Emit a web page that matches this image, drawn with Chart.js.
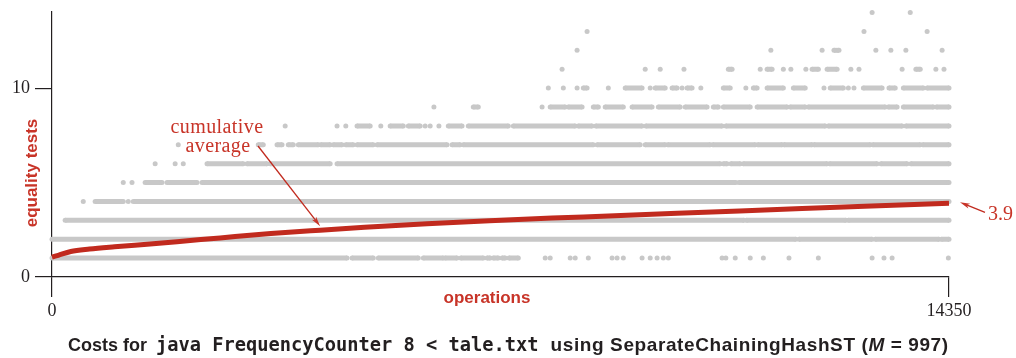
<!DOCTYPE html>
<html>
<head>
<meta charset="utf-8">
<script src="https://cdn.jsdelivr.net/npm/chart.js@4/dist/chart.umd.min.js"></script>
<style>
  html, body { margin: 0; padding: 0; background: #fff; }
  #wrap { position: relative; width: 1016px; height: 358px; overflow: hidden; }
  #caption {
    position: absolute; left: 68px; top: 334px; white-space: nowrap;
    font: bold 18px "Liberation Sans", Arial, sans-serif; color: #231f20;
  }
  #caption .code { font-family: "DejaVu Sans Mono", monospace; font-size: 18.7px; margin-left: 4px; }
  #caption .rest { font-size: 19px; letter-spacing: 0.6px; margin-left: 7px; }
</style>
</head>
<body>
<div id="wrap">
  <canvas id="chart" width="1016" height="358"></canvas>
  <div id="caption">Costs for <span class="code">java FrequencyCounter 8 &lt; tale.txt</span> <span class="rest">using SeparateChainingHashST (<i>M</i> = 997)</span></div>
</div>
<script>
// Axis ticks
const xTicks = [0, 14350];
const yTicks = [0, 10];

// Cumulative average cost (operation index -> average equality tests)
const avgOps  = [0, 100, 300, 600, 1000, 1570, 2000, 2690, 3500, 4290, 5000, 6000, 7000, 8000, 9000, 10000, 11000, 12000, 13000, 14350];
const avgCost = [1.05, 1.15, 1.35, 1.48, 1.60, 1.75, 1.87, 2.07, 2.30, 2.48, 2.63, 2.82, 2.98, 3.12, 3.24, 3.38, 3.50, 3.63, 3.75, 3.90];

// Individual operation costs: for each cost level, the operation ranges
// [first, last] (or single operations [op]) that took that many tests.
const costLevels = [1, 2, 3, 4, 5, 6, 7, 8, 9, 10, 11, 12, 13, 14];
const opsCost1 = [[0,4720],[4800,5140],[5220,5860],[5940,6260],[6290,6480],[6540,6900],[6960,7010],[7060,7140],[7200,7250],[7310,7460],
  [7890],[7970],[8290],[8370],[8580],[8960],[9040],[9140],[9440],[9570],[9680],[9780],[9860],
  [10720],[10780],[10930],[11170],[11380],[11790],[12260],[13120],[13310],[13440],[14340]];
const opsCost2 = [[0,11900],[11950,13120],[13170,14190],[14230,14350]];
const opsCost3 = [[210,11070],[11110,12700],[12740,14350]];
const opsCost4 = [[500],[690,1140],[1220],[1300,14350]];
const opsCost5 = [[1140],[1280],[1490,1760],[1840,2320],[2400,10940],[10990,14350]];
const opsCost6 = [[1650],[1970],[2100],[2480,3060],[3120,3440],[3490,4450],[4560,10690],[10740,10800],[10860,11010],
  [11060,12400],[12440,13200],[13260,13680],[13740,14350]];
const opsCost7 = [[2020],[3300,3380],[3600,3680],[3780,3860],[3940,4260],[4300,4450],[4500,4640],[4700,4820],[4880,5140],
  [5200,6320],[6400,6530],[6580,8660],[8720,9410],[9490,9810],[9850,10530],[10570,11250],[11290,11680],[11710,12160],
  [12190,13090],[13130,13890],[13930,14350]];
const opsCost8 = [[3730],[4560],[4700],[4880,5090],[5260],[5410,5620],[5700,5890],[5970],[6050],[6190],[6340,6560],
  [6660,7300],[7380,8370],[8420,8640],[8700,9440],[9500,10720],[10780,12370],[12420,13600],[13660,14350]];
const opsCost9 = [[6110],[6740,6820],[7840],[7970,8210],[8260,8480],[8660,8740],[8850,9140],[9280,9600],[9700,10050],
  [10130,10480],[10580,10660],[10740,11170],[11280,11760],[11810,12050],[12100,13330],[13380,13520],[13620,14100],[14150,14350]];
const opsCost10 = [[7940],[8180],[8400],[8500,8560],[8900],[9170,9440],[9570],[9650,9810],[9920,10000],[10080],[10160,10240],
  [10380],[10740,10850],[11100],[11220,11280],[11440,11700],[11860,12050],[12350],[12450,12660],[12740],[12830],
  [12980,13280],[13390,13490],[13620,13940],[14000,14350]];
const opsCost11 = [[8160],[9490],[9730],[10110],[10820,10880],[11330],[11440,11520],[11700],[11820],[12060],[12160,12260],
  [12400,12560],[12780],[12910],[13600],[13820,13890],[14140],[14270]];
const opsCost12 = [[8400],[11500],[12320],[12510,12590],[13180],[13420],[13660],[14240]];
const opsCost13 = [[8560],[12990],[14000]];
const opsCost14 = [[13120],[13730]];
const opsByCost = [opsCost1, opsCost2, opsCost3, opsCost4, opsCost5, opsCost6, opsCost7,
  opsCost8, opsCost9, opsCost10, opsCost11, opsCost12, opsCost13, opsCost14];

const RED = 'rgb(193,42,30)';
const RED_TEXT = 'rgb(200,52,40)';
const GRAY = 'rgb(200,200,200)';
const INK = '#231f20';

// One line dataset per cost level; null points split it into separate runs.
function levelPoints(level, ranges) {
  const pts = [];
  ranges.forEach((r, i) => {
    pts.push({ x: r[0], y: level });
    if (r.length > 1) pts.push({ x: r[1], y: level });
    if (i < ranges.length - 1) pts.push({ x: r[r.length - 1], y: null });
  });
  return pts;
}

const costDatasets = costLevels.map((level, i) => ({
  type: 'scatter',
  data: levelPoints(level, opsByCost[i]),
  showLine: true,
  spanGaps: false,
  borderColor: GRAY,
  borderWidth: 5,
  borderCapStyle: 'butt',
  pointRadius: 2.5,
  pointBorderWidth: 0,
  pointBackgroundColor: GRAY,
  clip: 6,
  order: 2
}));

const averageDataset = {
  type: 'line',
  data: avgOps.map((x, i) => ({ x, y: avgCost[i] })),
  borderColor: RED,
  borderWidth: 5,
  pointRadius: 0,
  cubicInterpolationMode: 'monotone',
  clip: 6,
  order: 0
};

function arrow(ctx, x0, y0, x1, y1, len, half) {
  const a = Math.atan2(y1 - y0, x1 - x0);
  ctx.beginPath();
  ctx.moveTo(x0, y0);
  ctx.lineTo(x1 - Math.cos(a) * len * 0.7, y1 - Math.sin(a) * len * 0.7);
  ctx.stroke();
  ctx.beginPath();
  ctx.moveTo(x1, y1);
  ctx.lineTo(x1 - Math.cos(a) * len - Math.sin(a) * half, y1 - Math.sin(a) * len + Math.cos(a) * half);
  ctx.lineTo(x1 - Math.cos(a) * len * 0.75, y1 - Math.sin(a) * len * 0.75);
  ctx.lineTo(x1 - Math.cos(a) * len + Math.sin(a) * half, y1 - Math.sin(a) * len - Math.cos(a) * half);
  ctx.closePath();
  ctx.fill();
}

// Axis titles and the red call-outs
const callouts = {
  id: 'callouts',
  afterDraw(chart) {
    const { ctx, scales: { x, y }, chartArea } = chart;
    ctx.save();
    ctx.fillStyle = RED_TEXT;
    ctx.strokeStyle = RED;
    ctx.lineWidth = 1.3;

    ctx.font = 'bold 17px "Liberation Sans", Arial, sans-serif';
    ctx.textAlign = 'center';
    ctx.textBaseline = 'middle';
    ctx.fillText('operations', chartArea.left + 435, chartArea.bottom + 21);
    ctx.save();
    ctx.translate(32, 173);
    ctx.rotate(-Math.PI / 2);
    ctx.fillText('equality tests', 0, 0);
    ctx.restore();

    ctx.font = '20px "Liberation Serif", serif';
    ctx.textBaseline = 'alphabetic';
    ctx.letterSpacing = '0.4px';
    ctx.fillText('cumulative', 217, 133);
    ctx.fillText('average', 218, 152);
    ctx.letterSpacing = '0px';

    const k = 9;
    const tipX = x.getPixelForValue(avgOps[k]);
    const tipY = y.getPixelForValue(avgCost[k]) - 4;
    arrow(ctx, 258, 146, tipX, tipY, 10, 2.6);

    const last = avgCost.length - 1;
    const ex = x.getPixelForValue(avgOps[last]) + 11;
    const ey = y.getPixelForValue(avgCost[last]) - 1;
    arrow(ctx, ex + 25, ey + 10, ex, ey, 10, 2.6);
    ctx.textAlign = 'left';
    ctx.textBaseline = 'middle';
    ctx.fillText(avgCost[last].toFixed(1), ex + 28, ey + 12);
    ctx.restore();
  }
};

new Chart(document.getElementById('chart'), {
  type: 'scatter',
  data: { datasets: [averageDataset, ...costDatasets] },
  options: {
    responsive: false,
    animation: false,
    events: [],
    layout: { padding: { top: 12, right: 67, left: 0, bottom: 0 } },
    plugins: { legend: { display: false }, tooltip: { enabled: false } },
    scales: {
      x: {
        type: 'linear', min: xTicks[0], max: xTicks[xTicks.length - 1],
        afterBuildTicks: s => { s.ticks = xTicks.map(v => ({ value: v })); },
        afterFit: s => { s.height = 81; s.paddingLeft = 0; s.paddingRight = 0; },
        grid: { drawOnChartArea: false, drawTicks: true, tickLength: 20, color: INK, lineWidth: 1.2 },
        border: { display: true, color: INK, width: 1.2 },
        ticks: {
          color: INK, padding: 3, maxRotation: 0, autoSkip: false,
          font: { family: '"Liberation Serif", serif', size: 18 },
          callback: v => String(v)
        }
      },
      y: {
        type: 'linear', min: 0, max: 14.03,
        afterBuildTicks: s => { s.ticks = yTicks.map(v => ({ value: v })); },
        afterFit: s => { s.width = 52; s.paddingTop = 0; s.paddingBottom = 0; },
        grid: { drawOnChartArea: false, drawTicks: true, tickLength: 17, color: INK, lineWidth: 1.2 },
        border: { display: true, color: INK, width: 1.2 },
        ticks: {
          color: INK, padding: 5, autoSkip: false,
          font: { family: '"Liberation Serif", serif', size: 18 },
          callback: v => String(v)
        }
      }
    }
  },
  plugins: [callouts]
});
</script>
</body>
</html>
